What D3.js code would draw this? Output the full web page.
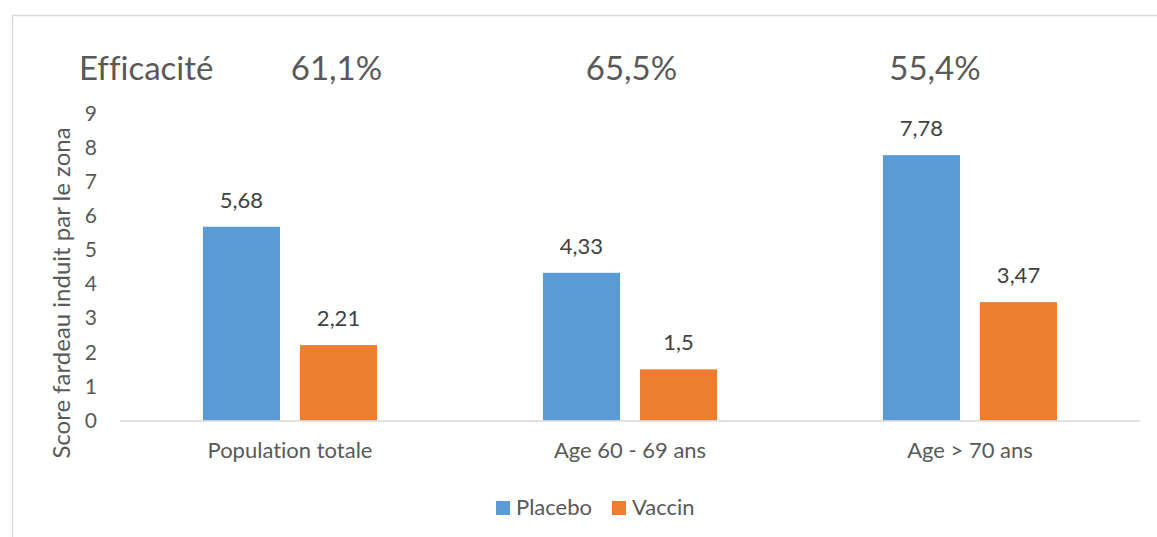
<!DOCTYPE html>
<html>
<head>
<meta charset="utf-8">
<script src="https://cdn.jsdelivr.net/npm/d3@7"></script>
<style>
  html, body { margin: 0; padding: 0; background: #fff; }
  svg { display: block; }
  text { font-family: Lato, "Open Sans", sans-serif; font-variant-ligatures: none; }
</style>
</head>
<body>
<script>
const categories = ["Population totale", "Age 60 - 69 ans", "Age > 70 ans"];
const seriesNames = ["Placebo", "Vaccin"];
const placeboValues = [5.68, 4.33, 7.78];
const vaccinValues = [2.21, 1.5, 3.47];
const placeboLabels = ["5,68", "4,33", "7,78"];
const vaccinLabels = ["2,21", "1,5", "3,47"];
const efficacyTitle = "Efficacité";
const efficacyLabels = ["61,1%", "65,5%", "55,4%"];
const yTicks = [0, 1, 2, 3, 4, 5, 6, 7, 8, 9];
const yTitle = "Score fardeau induit par le zona";
const colors = ["#5B9BD5", "#ED7D31"];

const W = 1157, H = 537;
const svg = d3.select("body").append("svg").attr("width", W).attr("height", H);

// chart frame
svg.append("rect").attr("x", 12.5).attr("y", 15.5).attr("width", W).attr("height", H)
  .attr("fill", "none").attr("stroke", "#d9d9d9").attr("stroke-width", 1.5);

const plot = { left: 120, right: 1140, top: 113.5, bottom: 420.5 };

const y = d3.scaleLinear().domain([0, 9]).range([plot.bottom, plot.top]);
const x0 = d3.scaleBand().domain(categories).range([plot.left, plot.right])
  .paddingInner(0.488).paddingOuter(0.244);
const x1 = d3.scaleBand().domain(seriesNames).range([0, x0.bandwidth()])
  .paddingInner(0.206).paddingOuter(0);

const rows = categories.map((c, i) => ({
  cat: c,
  vals: [
    { s: seriesNames[0], v: placeboValues[i], lab: placeboLabels[i] },
    { s: seriesNames[1], v: vaccinValues[i], lab: vaccinLabels[i] }
  ]
}));

// y axis ticks (no line)
const yAxis = d3.axisLeft(y).tickValues(yTicks).tickSize(0).tickPadding(0).tickFormat(d3.format("d"));
const gy = svg.append("g").attr("transform", `translate(97,0)`).call(yAxis);
gy.select(".domain").remove();
gy.selectAll("text").attr("fill", "#595959").style("font-size", "21px")
  .style("font-family", "Lato, 'Open Sans', sans-serif");

// x axis
const xAxis = d3.axisBottom(x0).tickSize(0).tickPadding(0);
const gx = svg.append("g").attr("transform", `translate(0,${plot.bottom})`).call(xAxis);
gx.select(".domain").remove();
gx.selectAll("text").attr("fill", "#595959").style("font-size", "22px")
  .style("font-family", "Lato, 'Open Sans', sans-serif")
  .attr("dy", null).attr("y", 37);

// bars
const groups = svg.append("g").selectAll("g").data(rows).join("g")
  .attr("transform", d => `translate(${x0(d.cat)},0)`);
groups.selectAll("rect").data(d => d.vals).join("rect")
  .attr("x", d => x1(d.s)).attr("width", x1.bandwidth())
  .attr("y", d => y(d.v)).attr("height", d => y(0) - y(d.v))
  .attr("fill", (d, i) => colors[i]);
groups.selectAll("text.lab").data(d => d.vals).join("text").attr("class", "lab")
  .attr("x", d => x1(d.s) + x1.bandwidth() / 2)
  .attr("y", d => y(d.v) - 19)
  .attr("text-anchor", "middle").attr("fill", "#404040").style("font-size", "22px")
  .text(d => d.lab);

// axis line
svg.append("line").attr("x1", plot.left).attr("x2", plot.right)
  .attr("y1", plot.bottom + 0.5).attr("y2", plot.bottom + 0.5)
  .attr("stroke", "#d9d9d9").attr("stroke-width", 1.5);

// y title
svg.append("text").attr("transform", `translate(70,293) rotate(-90)`)
  .attr("text-anchor", "middle").attr("fill", "#595959").style("font-size", "24px")
  .text(yTitle);

// efficacy header
svg.append("text").attr("x", 79).attr("y", 80).attr("fill", "#595959")
  .style("font-size", "33px").text(efficacyTitle);
const effX = [336.5, 631.5, 935];
svg.selectAll("text.eff").data(efficacyLabels).join("text").attr("class", "eff")
  .attr("x", (d, i) => effX[i]).attr("y", 80).attr("text-anchor", "middle")
  .attr("fill", "#595959").style("font-size", "33px").text(d => d);

// legend
const legX = [496, 612];
const leg = svg.append("g").selectAll("g").data(seriesNames).join("g")
  .attr("transform", (d, i) => `translate(${legX[i]},501)`);
leg.append("rect").attr("width", 14).attr("height", 14).attr("fill", (d, i) => colors[i]);
leg.append("text").attr("x", 20).attr("y", 14).attr("fill", "#595959")
  .style("font-size", "22px").text(d => d);
</script>
</body>
</html>
